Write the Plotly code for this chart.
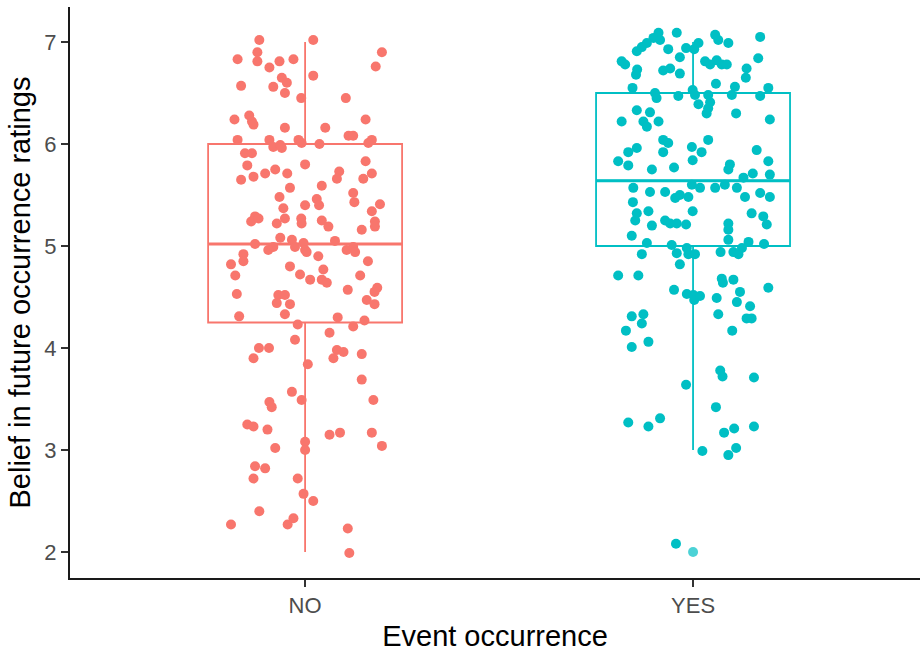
import plotly.graph_objects as go

# ---- data ----
categories = ["NO", "YES"]
cat_pos = [1, 2]
colors = ["#F8766D", "#00BFC4"]

# box statistics per category
q1 = [4.25, 5.00]
median = [5.02, 5.64]
q3 = [6.00, 6.50]
lower_whisker = [2.00, 3.00]
upper_whisker = [7.00, 7.00]
outliers_yes = [2.00]

# jittered points: horizontal jitter offset (category units) and rating
no_jitter = [
    -0.118, 0.021, -0.123, 0.198, -0.174, -0.123, -0.066, -0.030, -0.092, 0.182,
    0.021, -0.060, -0.047, -0.165, -0.082, -0.052, -0.010, 0.105, -0.182, -0.144,
    -0.137, -0.133, 0.156, -0.052, 0.052, -0.174, -0.092, -0.082, -0.064, -0.060,
    -0.017, -0.009, 0.037, 0.112, 0.124, 0.172, 0.163, -0.155, -0.137, -0.149,
    0.000, 0.156, -0.077, -0.103, -0.133, -0.046, 0.088, 0.082, 0.172, 0.150,
    -0.165, -0.039, 0.043, -0.066, 0.030, 0.124, 0.127, 0.000, 0.036, 0.193,
    -0.056, 0.172, -0.129, -0.139, -0.120, -0.052, -0.073, -0.010, -0.009, 0.043,
    0.060, 0.180, 0.180, 0.146, -0.129, -0.064, -0.082, -0.095, -0.034, -0.026,
    -0.004, 0.000, 0.004, 0.034, 0.077, 0.107, 0.124, 0.129, -0.159, -0.159,
    -0.191, -0.180, -0.039, -0.013, 0.013, 0.047, 0.043, 0.056, 0.162, 0.142,
    0.110, 0.186, 0.179, 0.159, 0.179, -0.176, -0.069, -0.052, -0.073, -0.039,
    -0.052, -0.170, -0.019, 0.084, 0.124, 0.153, 0.063, -0.026, -0.119, -0.093,
    -0.133, 0.082, 0.099, 0.073, 0.146, 0.007, 0.146, -0.034, -0.009, 0.176,
    -0.092, -0.086, -0.149, -0.133, -0.097, 0.063, 0.090, 0.172, 0.000, 0.000,
    -0.077, 0.198, -0.129, -0.103, -0.133, -0.019, -0.004, 0.021, -0.118, -0.191,
    -0.030, -0.045, 0.110, 0.114,
]
no_rating = [
    7.02, 7.02, 6.90, 6.90, 6.83, 6.81, 6.81, 6.83, 6.75, 6.76,
    6.67, 6.65, 6.60, 6.57, 6.56, 6.50, 6.45, 6.45, 6.24, 6.28,
    6.22, 6.19, 6.24, 6.16, 6.16, 6.04, 6.04, 5.97, 5.99, 5.96,
    6.04, 6.01, 6.00, 6.08, 6.08, 6.04, 6.01, 5.91, 5.91, 5.79,
    5.80, 5.83, 5.75, 5.71, 5.68, 5.71, 5.73, 5.66, 5.71, 5.66,
    5.65, 5.57, 5.59, 5.48, 5.46, 5.52, 5.43, 5.40, 5.40, 5.41,
    5.37, 5.34, 5.29, 5.24, 5.27, 5.27, 5.22, 5.27, 5.22, 5.25,
    5.19, 5.24, 5.19, 5.16, 5.02, 5.08, 4.99, 4.96, 5.06, 4.99,
    5.03, 4.96, 4.94, 4.90, 5.05, 4.96, 4.99, 4.94, 4.92, 4.85,
    4.82, 4.71, 4.80, 4.72, 4.67, 4.77, 4.67, 4.64, 4.85, 4.71,
    4.57, 4.59, 4.55, 4.47, 4.43, 4.53, 4.52, 4.52, 4.44, 4.43,
    4.33, 4.31, 4.23, 4.30, 4.21, 4.27, 4.15, 4.08, 4.00, 4.00,
    3.90, 3.98, 3.96, 3.90, 3.94, 3.84, 3.69, 3.57, 3.49, 3.49,
    3.47, 3.42, 3.25, 3.23, 3.20, 3.15, 3.17, 3.17, 3.08, 3.00,
    3.02, 3.04, 2.84, 2.82, 2.72, 2.72, 2.57, 2.50, 2.40, 2.27,
    2.33, 2.27, 2.23, 1.99,
]
yes_jitter = [
    -0.089, -0.042, -0.102, -0.085, -0.119, -0.132, -0.145, -0.064, 0.057, 0.065,
    0.091, 0.173, 0.014, 0.003, -0.018, -0.034, -0.184, -0.175, 0.031, 0.044,
    0.061, 0.074, 0.087, 0.168, -0.144, -0.147, -0.077, -0.059, -0.034, 0.138,
    0.136, 0.059, -0.156, -0.001, 0.108, 0.100, 0.194, 0.173, -0.098, -0.094,
    -0.038, 0.005, 0.014, 0.039, 0.044, 0.039, 0.035, -0.145, -0.111, 0.111,
    -0.184, -0.128, -0.119, -0.089, 0.198, -0.077, -0.064, 0.039, -0.003, 0.022,
    -0.145, -0.167, -0.077, 0.164, -0.193, -0.167, -0.106, -0.049, -0.001, 0.095,
    0.091, 0.194, 0.154, 0.130, 0.198, -0.154, -0.111, -0.072, -0.046, -0.034,
    -0.012, -0.003, 0.018, 0.057, 0.082, 0.113, 0.134, 0.173, 0.198, -0.155,
    -0.145, -0.115, -0.149, -0.106, -0.072, -0.059, -0.042, -0.018, -0.001, 0.091,
    0.091, 0.091, 0.151, 0.181, 0.190, -0.158, -0.119, -0.132, -0.055, -0.042,
    -0.016, -0.012, 0.005, -0.034, 0.071, 0.104, 0.117, 0.126, 0.143, 0.183,
    -0.193, -0.141, 0.074, 0.077, 0.104, 0.194, -0.049, -0.016, 0.001, 0.003,
    0.018, 0.061, 0.121, 0.113, 0.147, 0.065, 0.138, 0.151, -0.158, -0.128,
    -0.132, -0.173, 0.101, -0.115, -0.158, 0.070, 0.076, 0.157, -0.018, 0.059,
    -0.167, -0.115, -0.085, 0.080, 0.106, 0.157, 0.024, 0.091, 0.111, -0.044,
]
yes_rating = [
    7.09, 7.09, 7.04, 7.02, 6.99, 6.95, 6.91, 6.93, 7.07, 7.02,
    6.99, 7.05, 6.99, 6.93, 6.94, 6.85, 6.81, 6.78, 6.81, 6.78,
    6.82, 6.78, 6.78, 6.84, 6.73, 6.68, 6.72, 6.74, 6.69, 6.74,
    6.65, 6.59, 6.55, 6.53, 6.56, 6.48, 6.55, 6.47, 6.50, 6.45,
    6.47, 6.48, 6.39, 6.48, 6.41, 6.35, 6.30, 6.33, 6.31, 6.30,
    6.22, 6.22, 6.17, 6.22, 6.24, 6.04, 6.01, 6.04, 5.97, 5.92,
    5.96, 5.92, 5.92, 5.94, 5.83, 5.79, 5.75, 5.77, 5.84, 5.80,
    5.75, 5.83, 5.71, 5.67, 5.70, 5.57, 5.53, 5.53, 5.47, 5.50,
    5.48, 5.60, 5.57, 5.57, 5.60, 5.57, 5.48, 5.52, 5.48, 5.43,
    5.32, 5.34, 5.25, 5.20, 5.25, 5.22, 5.22, 5.21, 5.34, 5.22,
    5.16, 5.06, 5.32, 5.29, 5.21, 5.10, 5.03, 4.92, 5.01, 4.93,
    4.98, 4.92, 4.92, 4.82, 4.94, 4.94, 4.92, 4.98, 5.04, 5.02,
    4.71, 4.71, 4.68, 4.64, 4.67, 4.59, 4.57, 4.53, 4.52, 4.47,
    4.51, 4.49, 4.55, 4.45, 4.41, 4.33, 4.29, 4.29, 4.31, 4.33,
    4.24, 4.17, 4.17, 4.06, 4.01, 3.78, 3.72, 3.71, 3.64, 3.42,
    3.27, 3.23, 3.31, 3.17, 3.21, 3.23, 2.99, 2.95, 3.02, 2.08,
]

y_ticks = [2, 3, 4, 5, 6, 7]
x_title = "Event occurrence"
y_title = "Belief in future occurrence ratings"

# ---- styling ----
BOX_WIDTH = 0.5
FONT = "Liberation Sans, Arial, sans-serif"
TICK_COLOR = "#4D4D4D"

fig = go.Figure()

for i, cat in enumerate(categories):
    fig.add_trace(go.Box(
        x=[cat_pos[i]], q1=[q1[i]], median=[median[i]], q3=[q3[i]],
        lowerfence=[lower_whisker[i]], upperfence=[upper_whisker[i]],
        width=BOX_WIDTH, whiskerwidth=0, fillcolor="white",
        line=dict(color=colors[i], width=1.8), boxpoints=False,
        showlegend=False, hoverinfo="skip",
    ))
    # thicker median line as in ggplot
    fig.add_trace(go.Scatter(
        x=[cat_pos[i] - BOX_WIDTH / 2, cat_pos[i] + BOX_WIDTH / 2],
        y=[median[i], median[i]], mode="lines",
        line=dict(color=colors[i], width=3), showlegend=False, hoverinfo="skip",
    ))

# box outlier for YES
fig.add_trace(go.Scatter(
    x=[cat_pos[1]] * len(outliers_yes), y=outliers_yes, mode="markers",
    marker=dict(color=colors[1], size=10, opacity=0.7), showlegend=False,
))

for pos, jit, vals, col in [
    (cat_pos[0], no_jitter, no_rating, colors[0]),
    (cat_pos[1], yes_jitter, yes_rating, colors[1]),
]:
    fig.add_trace(go.Scatter(
        x=[pos + j for j in jit], y=vals, mode="markers",
        marker=dict(color=col, size=10, line=dict(width=0)),
        showlegend=False,
    ))

axis_common = dict(
    showline=True, linecolor="#1a1a1a", linewidth=2,
    ticks="outside", ticklen=7, tickwidth=2, tickcolor="#333333",
    showgrid=False, zeroline=False,
    tickfont=dict(family=FONT, size=22, color=TICK_COLOR),
)

fig.update_layout(
    width=920, height=653,
    margin=dict(l=70, r=0, t=7, b=75),
    plot_bgcolor="white", paper_bgcolor="white",
    font=dict(family=FONT),
    xaxis=dict(
        range=[0.394, 2.585], tickmode="array", tickvals=cat_pos, ticktext=categories,
        title=dict(text=x_title, font=dict(family=FONT, size=29, color="black"), standoff=8),
        **axis_common,
    ),
    yaxis=dict(
        range=[1.745, 7.343], tickmode="array", tickvals=y_ticks,
        title=dict(text=y_title, font=dict(family=FONT, size=29, color="black"), standoff=5),
        **axis_common,
    ),
)

fig.write_html("out.html")
